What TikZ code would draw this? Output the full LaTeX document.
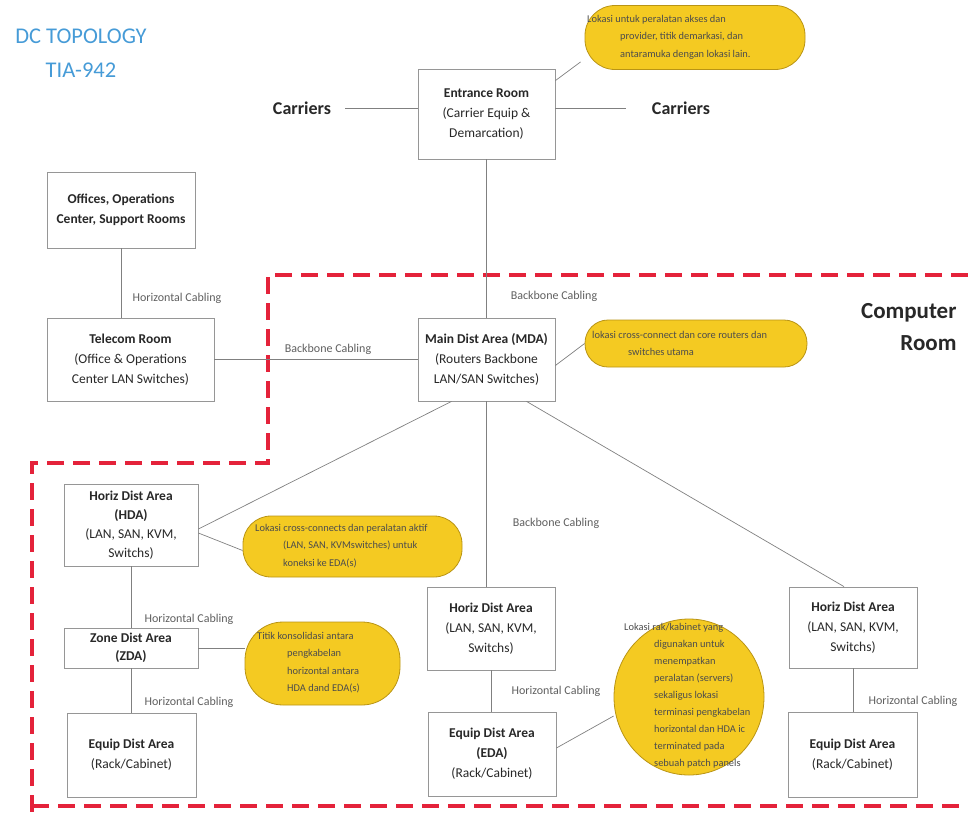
\documentclass[tikz,border=0pt]{standalone}
\usepackage{fontspec}
\setmainfont{Carlito}
\usetikzlibrary{shapes.geometric}
\definecolor{boxline}{RGB}{150,150,150}
\definecolor{txt}{RGB}{40,40,40}
\definecolor{lbl}{RGB}{95,95,95}
\definecolor{gold}{RGB}{244,202,34}
\definecolor{goldline}{RGB}{185,148,20}
\definecolor{zone}{RGB}{228,34,58}
\definecolor{titleblue}{RGB}{70,155,215}
\begin{document}
\begin{tikzpicture}[x=1pt,y=-1pt,
  room/.style={draw=boxline,line width=0.8pt,fill=white,align=center,text=txt,
    font=\fontsize{13.5}{20}\selectfont,inner sep=2pt},
  wire/.style={draw=boxline!85!black,line width=0.7pt},
  cable/.style={text=lbl,font=\fontsize{12}{13}\selectfont},
  note/.style={draw=goldline,line width=0.8pt,fill=gold,inner sep=0pt},
  notetext/.style={text=black!70,font=\fontsize{10.4}{17.5}\selectfont,align=left,
    anchor=north west,inner sep=0pt},
  carrier/.style={text=txt,font=\fontsize{18}{20}\selectfont\bfseries}]
\useasboundingbox (0,0) rectangle (968,814);

% title
\node[text=titleblue,font=\fontsize{22.5}{34}\selectfont,align=center] (title) at (81,53)
  {DC TOPOLOGY\\TIA-942};

% computer room boundary
\draw[zone,line width=3.5pt,dash pattern=on 17pt off 9pt]
  (968,275) -- (268,275) -- (268,463) -- (32,463) -- (32,814);
\draw[zone,line width=3.5pt,dash pattern=on 17pt off 9pt] (32,806) -- (968,806);
\node[text=txt,font=\fontsize{23}{32}\selectfont\bfseries,align=right,anchor=east] (cr) at (960,327)
  {Computer\\Room};

% rooms
\node[room,minimum width=137pt,minimum height=90pt] (er) at (486.5,114)
  {\textbf{Entrance Room}\\(Carrier Equip \&\\Demarcation)};
\node[room,minimum width=148pt,minimum height=76pt] (off) at (121,210)
  {\textbf{Offices, Operations}\\\textbf{Center, Support Rooms}};
\node[room,minimum width=167pt,minimum height=83pt] (tr) at (130.5,359.5)
  {\textbf{Telecom Room}\\(Office \& Operations\\Center LAN Switches)};
\node[room,minimum width=137pt,minimum height=83pt] (mda) at (486.5,359.5)
  {\textbf{Main Dist Area (MDA)}\\(Routers Backbone\\LAN/SAN Switches)};
\node[room,minimum width=134pt,minimum height=82pt,font=\fontsize{13.5}{19}\selectfont] (hda) at (131,525)
  {\textbf{Horiz Dist Area}\\\textbf{(HDA)}\\(LAN, SAN, KVM,\\Switchs)};
\node[room,minimum width=134pt,minimum height=40pt,font=\fontsize{13.5}{18}\selectfont] (zda) at (131,648)
  {\textbf{Zone Dist Area}\\\textbf{(ZDA)}};
\node[room,minimum width=129pt,minimum height=84pt] (eq1) at (131.5,755)
  {\textbf{Equip Dist Area}\\(Rack/Cabinet)};
\node[room,minimum width=128pt,minimum height=83pt] (hz2) at (491,628.5)
  {\textbf{Horiz Dist Area}\\(LAN, SAN, KVM,\\Switchs)};
\node[room,minimum width=128pt,minimum height=84pt] (eda) at (492,754)
  {\textbf{Equip Dist Area}\\\textbf{(EDA)}\\(Rack/Cabinet)};
\node[room,minimum width=128pt,minimum height=81pt] (hz3) at (853,627.5)
  {\textbf{Horiz Dist Area}\\(LAN, SAN, KVM,\\Switchs)};
\node[room,minimum width=129pt,minimum height=85pt] (eq3) at (852.5,754.5)
  {\textbf{Equip Dist Area}\\(Rack/Cabinet)};

% carriers
\node[carrier] (cl) at (302,108) {Carriers};
\node[carrier] (cr2) at (681,108) {Carriers};
\coordinate (clend) at (345,108);
\coordinate (crend) at (626,108);
\draw[wire] (clend) -- (er.west |- clend);
\draw[wire] (er.east |- crend) -- (crend);

% cabling
\draw[wire] (er.south) -- (mda.north);
\node[cable] (bb1) at (554,296) {Backbone Cabling};
\draw[wire] (off.south) -- (tr.north -| off.south);
\node[cable] (hc0) at (177,298) {Horizontal Cabling};
\draw[wire] (tr.east) -- (mda.west);
\node[cable] (bb2) at (328,349) {Backbone Cabling};
\draw[wire] ([xshift=-35pt]mda.south) -- ([yshift=-4pt]hda.east);
\draw[wire] (mda.south) -- (mda.south |- hz2.north);
\node[cable] (bb3) at (556,523) {Backbone Cabling};
\draw[wire] ([xshift=40pt]mda.south) -- ([xshift=-9pt]hz3.north);
\draw[wire] (hda.south) -- (zda.north);
\node[cable] (hc1) at (189,619) {Horizontal Cabling};
\draw[wire] (zda.south) -- (eq1.north -| zda.south);
\node[cable] (hc2) at (189,702) {Horizontal Cabling};
\draw[wire] (hz2.south) -- (hz2.south |- eda.north);
\node[cable] (hc3) at (556,691) {Horizontal Cabling};
\draw[wire] (hz3.south) -- (hz3.south |- eq3.north);
\node[cable] (hc4) at (913,701) {Horizontal Cabling};

% notes: yellow shapes first, their text on top
\node[note,minimum width=220pt,minimum height=64pt,rounded corners=30pt] (n1) at (695,37.5) {};
\node[notetext] (n1t) at (587,15)
  {Lokasi untuk peralatan akses dan\\
   \hspace*{33pt}provider, titik demarkasi, dan\\
   \hspace*{33pt}antaramuka dengan lokasi lain.};
\draw[wire] ([yshift=-12pt]er.north east) -- ([xshift=-4pt,yshift=8pt]n1.south west);

\node[note,minimum width=222pt,minimum height=47pt,rounded corners=23pt] (n2) at (696,343.5) {};
\node[notetext] (n2t) at (592,331)
  {lokasi cross-connect dan core routers dan\\
   \hspace*{36pt}switches utama};
\draw[wire] ([yshift=-6pt]mda.east) -- (n2.west);

\node[note,minimum width=219pt,minimum height=61pt,rounded corners=28pt] (n3) at (352.5,546.5) {};
\node[notetext] (n3t) at (255,524)
  {Lokasi cross-connects dan peralatan aktif\\
   \hspace*{28pt}(LAN, SAN, KVMswitches) untuk\\
   \hspace*{28pt}koneksi ke EDA(s)};
\draw[wire] ([yshift=-8pt]hda.east) -- ([yshift=-4pt]n3.west);

\node[note,minimum width=155pt,minimum height=83pt,rounded corners=38pt] (n4) at (322.5,663.5) {};
\node[notetext] (n4t) at (257,632)
  {Titik konsolidasi antara\\
   \hspace*{30pt}pengkabelan\\
   \hspace*{30pt}horizontal antara\\
   \hspace*{30pt}HDA dand EDA(s)};
\draw[wire] (zda.east) -- (zda.east -| n4.west);

\node[note,ellipse,minimum width=150pt,minimum height=156pt] (n5) at (689,697) {};
\node[notetext,font=\fontsize{10.4}{17}\selectfont] (n5t) at (624,623)
  {Lokasi rak/kabinet yang\\
   \hspace*{30pt}digunakan untuk\\
   \hspace*{30pt}menempatkan\\
   \hspace*{30pt}peralatan (servers)\\
   \hspace*{30pt}sekaligus lokasi\\
   \hspace*{30pt}terminasi pengkabelan\\
   \hspace*{30pt}horizontal dan HDA ic\\
   \hspace*{30pt}terminated pada\\
   \hspace*{30pt}sebuah patch panels};
\draw[wire] ([yshift=6pt]eda.east) -- (n5.west |- 0,716);
\end{tikzpicture}
\end{document}
